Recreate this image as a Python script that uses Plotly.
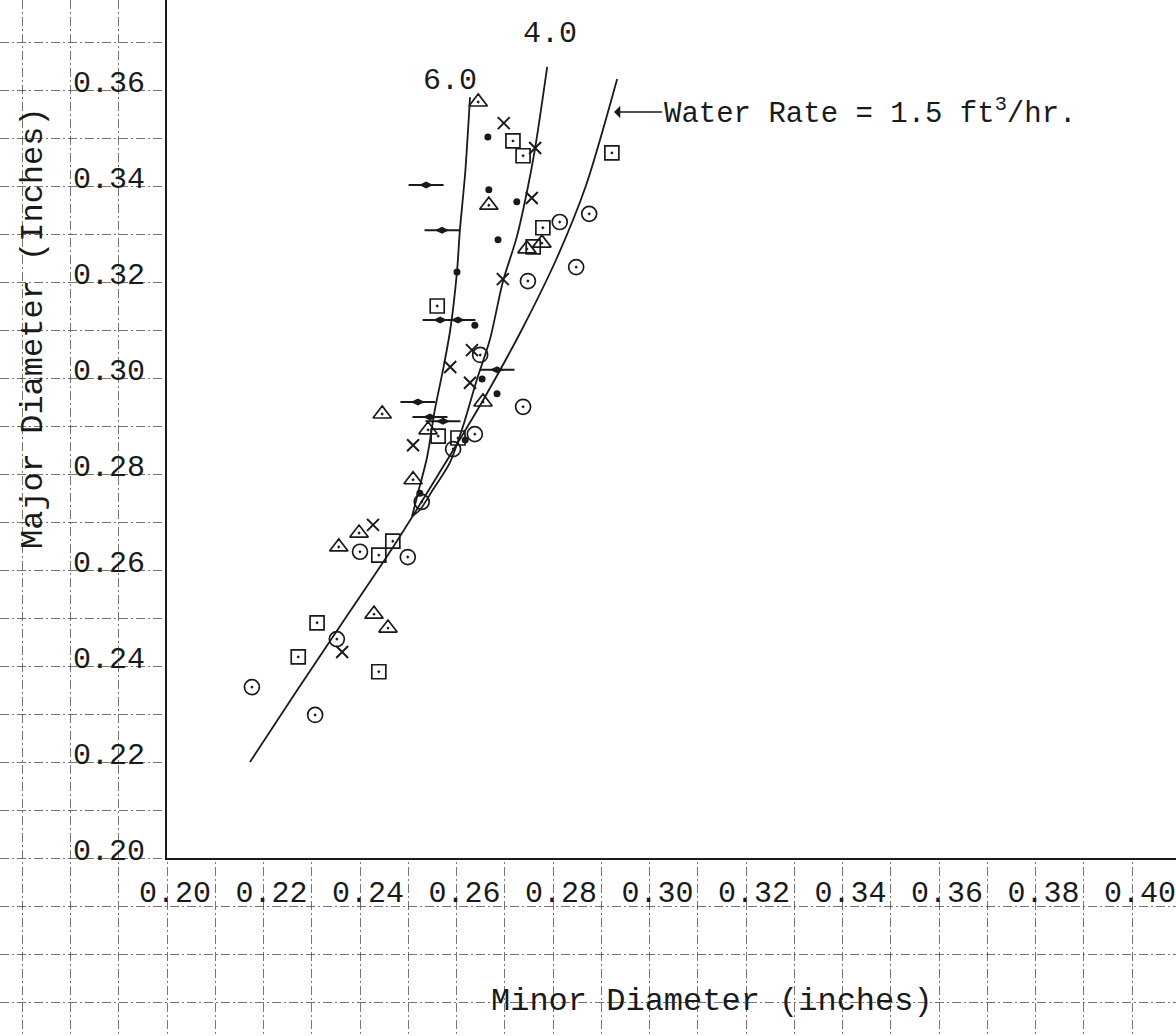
import plotly.graph_objects as go

# ---------------- data (inches) ----------------
# Smoothed curves, one per water rate (ft^3/hr)
curve_15_x = [0.2172, 0.2270, 0.2370, 0.2470, 0.2563, 0.2653, 0.2735, 0.2808, 0.2868, 0.2933]
curve_15_y = [0.2200, 0.2350, 0.2500, 0.2650, 0.2800, 0.2950, 0.3100, 0.3250, 0.3400, 0.3623]

curve_40_x = [0.2508, 0.2524, 0.2551, 0.2586, 0.2613, 0.2642, 0.2669, 0.2696, 0.2725, 0.2748, 0.2763, 0.2788]
curve_40_y = [0.2712, 0.2725, 0.2767, 0.2823, 0.2898, 0.2996, 0.3079, 0.3200, 0.3294, 0.3398, 0.3479, 0.3648]

curve_60_x = [0.2508, 0.2520, 0.2539, 0.2555, 0.2572, 0.2587, 0.2601, 0.2607, 0.2618, 0.2628]
curve_60_y = [0.2712, 0.2760, 0.2835, 0.2933, 0.3017, 0.3100, 0.3221, 0.3308, 0.3427, 0.3585]

# Measured drops, grouped by plotting symbol
circle_x = [0.2649, 0.2814, 0.2875, 0.2848, 0.2748, 0.2738, 0.2638, 0.2593, 0.2528, 0.2400, 0.2499, 0.2352, 0.2176, 0.2307]
circle_y = [0.3048, 0.3325, 0.3342, 0.3231, 0.3202, 0.2940, 0.2883, 0.2852, 0.2742, 0.2638, 0.2627, 0.2456, 0.2356, 0.2298]

square_x = [0.2717, 0.2738, 0.2922, 0.2779, 0.2759, 0.2560, 0.2562, 0.2603, 0.2468, 0.2439, 0.2311, 0.2272, 0.2439]
square_y = [0.3494, 0.3463, 0.3469, 0.3313, 0.3273, 0.3150, 0.2879, 0.2875, 0.2660, 0.2631, 0.2490, 0.2419, 0.2388]

triangle_x = [0.2645, 0.2667, 0.2777, 0.2746, 0.2655, 0.2446, 0.2541, 0.2510, 0.2398, 0.2356, 0.2429, 0.2458]
triangle_y = [0.3575, 0.3360, 0.3281, 0.3269, 0.2950, 0.2925, 0.2892, 0.2788, 0.2677, 0.2648, 0.2508, 0.2479]

cross_x = [0.2698, 0.2763, 0.2756, 0.2696, 0.2632, 0.2587, 0.2628, 0.2510, 0.2427, 0.2363]
cross_y = [0.3531, 0.3479, 0.3375, 0.3206, 0.3058, 0.3023, 0.2990, 0.2860, 0.2694, 0.2429]

dot_x = [0.2665, 0.2667, 0.2725, 0.2686, 0.2638, 0.2653, 0.2684, 0.2618, 0.2524, 0.2601]
dot_y = [0.3502, 0.3392, 0.3367, 0.3288, 0.3110, 0.2998, 0.2967, 0.2871, 0.2760, 0.3221]

bardot_x = [0.2537, 0.2570, 0.2566, 0.2603, 0.2684, 0.2520, 0.2545, 0.2572]
bardot_y = [0.3402, 0.3308, 0.3121, 0.3121, 0.3017, 0.2950, 0.2919, 0.2910]

# Axis ticks
x_ticks = [0.20, 0.22, 0.24, 0.26, 0.28, 0.30, 0.32, 0.34, 0.36, 0.38, 0.40]
x_tick_text = ["0.20", "0.22", "0.24", "0.26", "0.28", "0.30", "0.32", "0.34", "0.36", "0.38", "0.40"]
y_ticks = [0.20, 0.22, 0.24, 0.26, 0.28, 0.30, 0.32, 0.34, 0.36]
y_tick_text = ["0.20", "0.22", "0.24", "0.26", "0.28", "0.30", "0.32", "0.34", "0.36"]

# ---------------- geometry ----------------
W, H = 1176, 1036
ORIGIN_PX = (167, 858)          # where the two axes meet, in page pixels
PX_PER_UNIT_X = 4825.0
PX_PER_UNIT_Y = 4800.0
X0 = Y0 = 0.20

x_full = [X0 - ORIGIN_PX[0] / PX_PER_UNIT_X, X0 + (W - ORIGIN_PX[0]) / PX_PER_UNIT_X]
y_full = [Y0 - (H - ORIGIN_PX[1]) / PX_PER_UNIT_Y, Y0 + ORIGIN_PX[1] / PX_PER_UNIT_Y]

INK = "#1a1a1a"
FONT = "Liberation Mono"


def px_to_x(px):
    return X0 + (px - ORIGIN_PX[0]) / PX_PER_UNIT_X


def px_to_y(py):
    return Y0 + (ORIGIN_PX[1] - py) / PX_PER_UNIT_Y


fig = go.Figure()

# invisible trace so the full-page graph-paper axes are drawn
fig.add_trace(go.Scatter(x=[x_full[0]], y=[y_full[0]], mode="markers",
                         marker=dict(opacity=0), hoverinfo="skip",
                         showlegend=False, xaxis="x", yaxis="y"))

line_style = dict(color=INK, width=1.8, shape="spline", smoothing=0.8)
for cx, cy in [(curve_15_x, curve_15_y), (curve_40_x, curve_40_y), (curve_60_x, curve_60_y)]:
    fig.add_trace(go.Scatter(x=cx, y=cy, mode="lines", line=line_style,
                             showlegend=False, xaxis="x2", yaxis="y2", cliponaxis=False))

mk_line = dict(color=INK, width=1.7)
markers = [
    (circle_x, circle_y, dict(symbol="circle-open-dot", size=15, color=INK, line=mk_line)),
    (square_x, square_y, dict(symbol="square-open-dot", size=14, color=INK, line=mk_line)),
    (triangle_x, triangle_y, dict(symbol="triangle-up-open-dot", size=16, color=INK, line=mk_line)),
    (cross_x, cross_y, dict(symbol="x-thin-open", size=12, color=INK, line=dict(color=INK, width=2))),
    (dot_x, dot_y, dict(symbol="circle", size=7, color=INK, line=dict(width=0))),
    (bardot_x, bardot_y, dict(symbol="line-ew-open", size=25, color=INK, line=dict(color=INK, width=2))),
    (bardot_x, bardot_y, dict(symbol="diamond-wide", size=10, color=INK, line=dict(width=0))),
]
for mx, my, mstyle in markers:
    fig.add_trace(go.Scatter(x=mx, y=my, mode="markers", marker=mstyle,
                             showlegend=False, xaxis="x2", yaxis="y2", cliponaxis=False))

grid = dict(showgrid=True, gridcolor="rgba(70,70,70,0.75)", gridwidth=1.2,
            griddash="9px,3px,2px,3px", tick0=0.20, dtick=0.01, automargin=False,
            showticklabels=False, ticks="", zeroline=False, showline=False, fixedrange=True)

tick_font = dict(family=FONT, size=30, color=INK)

fig.update_layout(
    width=W, height=H,
    margin=dict(l=0, r=0, t=0, b=0, pad=0, autoexpand=False),
    paper_bgcolor="white", plot_bgcolor="white",
    showlegend=False,
    xaxis=dict(domain=[0, 1], range=x_full, **grid),
    yaxis=dict(domain=[0, 1], range=y_full, **grid),
    xaxis2=dict(domain=[ORIGIN_PX[0] / W, 1], range=[X0, x_full[1]], anchor="y2",
                showgrid=False, zeroline=False, showline=True, linecolor=INK, linewidth=2,
                tickvals=x_ticks, ticktext=x_tick_text, ticks="", tickfont=tick_font,
                ticklabelshift=8, ticklabelstandoff=6, ticklabeloverflow="allow",
                automargin=False, fixedrange=True),
    yaxis2=dict(domain=[(H - ORIGIN_PX[1]) / H, 1], range=[Y0, y_full[1]], anchor="x2",
                showgrid=False, zeroline=False, showline=True, linecolor=INK, linewidth=2,
                tickvals=y_ticks, ticktext=y_tick_text, ticks="", tickfont=tick_font,
                ticklabelshift=-9, ticklabelstandoff=14, ticklabeloverflow="allow",
                automargin=False, fixedrange=True),
)

# Axis titles
fig.add_annotation(text="Minor Diameter (inches)", xref="paper", yref="paper",
                   x=712 / W, y=1 - 1001 / H, xanchor="center", yanchor="middle",
                   showarrow=False, font=dict(family=FONT, size=32, color=INK))
fig.add_annotation(text="Major Diameter (Inches)", xref="paper", yref="paper",
                   x=33 / W, y=1 - 328 / H, xanchor="center", yanchor="middle",
                   textangle=-90, showarrow=False, font=dict(family=FONT, size=32, color=INK))

# Curve labels
fig.add_annotation(text="6.0", x=px_to_x(450), y=px_to_y(81), xref="x2", yref="y2",
                   showarrow=False, font=dict(family=FONT, size=30, color=INK))
fig.add_annotation(text="4.0", x=px_to_x(550), y=px_to_y(34), xref="x2", yref="y2",
                   showarrow=False, font=dict(family=FONT, size=30, color=INK))

# Water-rate label with its arrow pointing at the 1.5 curve
fig.add_annotation(text="Water Rate = 1.5 ft<sup>3</sup>/hr.",
                   x=px_to_x(614), y=px_to_y(112), xref="x2", yref="y2",
                   ax=px_to_x(662), ay=px_to_y(112), axref="x2", ayref="y2",
                   xanchor="left", showarrow=True, arrowhead=1, arrowsize=1.3,
                   arrowwidth=1.6, arrowcolor=INK,
                   font=dict(family=FONT, size=29, color=INK))

fig.write_html("out.html")
